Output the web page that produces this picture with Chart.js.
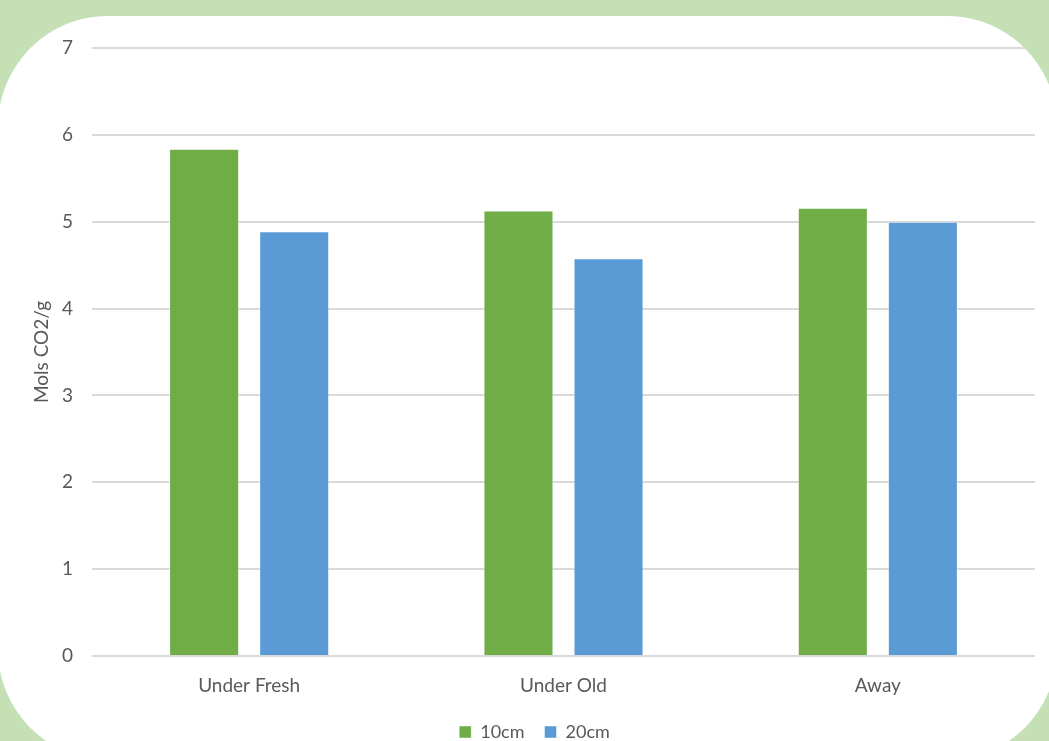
<!DOCTYPE html>
<html>
<head>
<meta charset="utf-8">
<script src="https://cdn.jsdelivr.net/npm/chart.js@4.4.0/dist/chart.umd.min.js"></script>
<style>
  html, body { margin: 0; padding: 0; width: 1049px; height: 741px; overflow: hidden; background: #c5e0b4; }
  #panel { position: absolute; left: -2px; top: 16px; width: 1059px; height: 744px; background: #ffffff; border-radius: 110px; overflow: hidden; }
  #wrap { position: absolute; left: 2px; top: -16px; width: 1049px; height: 741px; }
</style>
</head>
<body>
<div id="panel"><div id="wrap"><canvas id="c"></canvas></div></div>
<script>
// Respiration by site and depth
const categories = ['Under Fresh', 'Under Old', 'Away'];
const seriesNames = ['10cm', '20cm'];
const values10cm = [5.84, 5.13, 5.16];
const values20cm = [4.89, 4.58, 5.00];
const yTicks = [0, 1, 2, 3, 4, 5, 6, 7];
const yTitle = 'Mols CO2/g';

const textColor = '#595959';
const fontFamily = 'Lato, "Open Sans", sans-serif';

new Chart(document.getElementById('c'), {
  type: 'bar',
  data: {
    labels: categories,
    datasets: [
      { label: seriesNames[0], data: values10cm, backgroundColor: '#70ad47', borderColor: 'rgba(255,255,255,0.45)', borderWidth: 1 },
      { label: seriesNames[1], data: values20cm, backgroundColor: '#5b9bd5', borderColor: 'rgba(255,255,255,0.45)', borderWidth: 1 }
    ]
  },
  options: {
    responsive: true,
    maintainAspectRatio: false,
    animation: false,
    layout: { padding: { left: 34, right: 14, top: 48, bottom: -10 } },
    datasets: { bar: { categoryPercentage: 0.573, barPercentage: 0.778 } },
    plugins: {
      legend: {
        position: 'bottom',
        labels: { color: textColor, font: { family: fontFamily, size: 18 }, boxWidth: 12, boxHeight: 12, padding: 20 }
      },
      tooltip: { enabled: false }
    },
    scales: {
      x: {
        grid: { display: false },
        border: { display: false },
        ticks: { color: textColor, font: { family: fontFamily, size: 19 }, padding: 10 },
        afterFit: s => { s.height = 47; }
      },
      y: {
        min: yTicks[0],
        max: yTicks[yTicks.length - 1],
        afterBuildTicks: s => { s.ticks = yTicks.map(v => ({ value: v })); },
        grid: { color: '#d9d9d9', lineWidth: 2, drawTicks: false },
        border: { display: false },
        ticks: { color: textColor, font: { family: fontFamily, size: 19 }, padding: 19 },
        title: { display: true, text: yTitle, color: textColor, font: { family: fontFamily, size: 19 }, padding: { top: -4, bottom: 0 } },
        afterFit: s => { s.width = 58; }
      }
    }
  }
});
</script>
</body>
</html>
